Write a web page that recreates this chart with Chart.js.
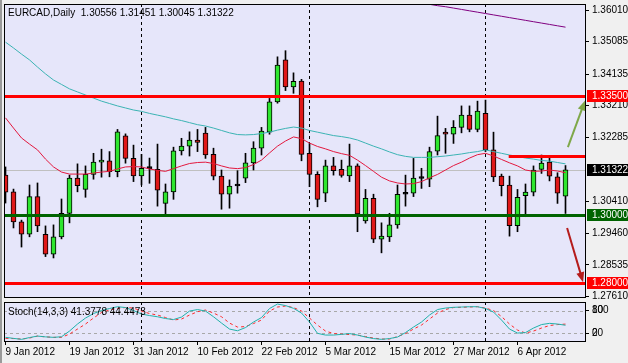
<!DOCTYPE html>
<html>
<head>
<meta charset="utf-8">
<script src="https://cdn.jsdelivr.net/npm/chart.js@4.4.1/dist/chart.umd.min.js"></script>
<style>
  html, body { margin: 0; padding: 0; background: #f0f0f0; }
  #wrap { position: relative; width: 628px; height: 363px; overflow: hidden; }
  #price { position: absolute; left: 0; top: 0; }
  #stoch { position: absolute; left: 0; top: 300px; }
  #edge { position: absolute; left: 0; top: 0; width: 2px; height: 363px; background: #9a9a9a; }
</style>
</head>
<body>
<div id="wrap">
  <canvas id="price" width="628" height="300"></canvas>
  <canvas id="stoch" width="628" height="63"></canvas>
  <div id="edge"></div>
</div>
<script>
// --- data ---
const symbol = 'EURCAD,Daily';

const dates = [
  '9 Jan 2012','10 Jan 2012','11 Jan 2012','12 Jan 2012','13 Jan 2012','16 Jan 2012','17 Jan 2012','18 Jan 2012',
  '19 Jan 2012','20 Jan 2012','23 Jan 2012','24 Jan 2012','25 Jan 2012','26 Jan 2012','27 Jan 2012','30 Jan 2012','31 Jan 2012',
  '1 Feb 2012','2 Feb 2012','3 Feb 2012','6 Feb 2012','7 Feb 2012','8 Feb 2012','9 Feb 2012','10 Feb 2012',
  '13 Feb 2012','14 Feb 2012','15 Feb 2012','16 Feb 2012','17 Feb 2012','20 Feb 2012','21 Feb 2012','22 Feb 2012',
  '23 Feb 2012','24 Feb 2012','27 Feb 2012','28 Feb 2012','29 Feb 2012',
  '1 Mar 2012','2 Mar 2012','5 Mar 2012','6 Mar 2012','7 Mar 2012','8 Mar 2012','9 Mar 2012','12 Mar 2012',
  '13 Mar 2012','14 Mar 2012','15 Mar 2012','16 Mar 2012','19 Mar 2012','20 Mar 2012','21 Mar 2012','22 Mar 2012',
  '23 Mar 2012','26 Mar 2012','27 Mar 2012','28 Mar 2012','29 Mar 2012','30 Mar 2012',
  '2 Apr 2012','3 Apr 2012','4 Apr 2012','5 Apr 2012','6 Apr 2012','9 Apr 2012','10 Apr 2012','11 Apr 2012',
  '12 Apr 2012','13 Apr 2012','16 Apr 2012'
];

const opens = [
  1.3117, 1.3068, 1.2980, 1.2944, 1.3054, 1.2943, 1.2885, 1.2936, 1.3005, 1.3108,
  1.3075, 1.3119, 1.3155, 1.3159, 1.3127, 1.3232, 1.3166, 1.3115, 1.3136, 1.3134,
  1.3034, 1.3068, 1.3188, 1.3202, 1.3220, 1.3240, 1.3178, 1.3114, 1.3061, 1.3085,
  1.3108, 1.3153, 1.3196, 1.3243, 1.3332, 1.3455, 1.3376, 1.3393, 1.3181, 1.3119,
  1.3064, 1.3144, 1.3134, 1.3115, 1.3144, 1.2983, 1.3049, 1.2929, 1.2936, 1.2971,
  1.3061, 1.3064, 1.3107, 1.3105, 1.3187, 1.3243, 1.3237, 1.3257, 1.3293, 1.3251,
  1.3298, 1.3191, 1.3114, 1.3088, 1.2969, 1.3057, 1.3067, 1.3134, 1.3155, 1.3112,
  1.30556
];
const highs = [
  1.3141, 1.3076, 1.2985, 1.3088, 1.3094, 1.2968, 1.2971, 1.3047, 1.3117, 1.3150,
  1.3144, 1.3181, 1.3193, 1.3186, 1.3251, 1.3238, 1.3205, 1.3178, 1.3167, 1.3208,
  1.3091, 1.3199, 1.3225, 1.3244, 1.3251, 1.3257, 1.3196, 1.3132, 1.3103, 1.3130,
  1.3181, 1.3215, 1.3257, 1.3342, 1.3464, 1.3482, 1.3417, 1.3398, 1.3210, 1.3127,
  1.3161, 1.3169, 1.3161, 1.3208, 1.3150, 1.3075, 1.3061, 1.2977, 1.3005, 1.3088,
  1.3117, 1.3166, 1.3137, 1.3199, 1.3290, 1.3254, 1.3277, 1.3320, 1.3320, 1.3334,
  1.3337, 1.3243, 1.3120, 1.3114, 1.3075, 1.3091, 1.3144, 1.3176, 1.3171, 1.3124,
  1.31451
];
const lows = [
  1.3035, 1.2962, 1.2906, 1.2936, 1.2951, 1.2878, 1.2874, 1.2930, 1.2977, 1.3068,
  1.3052, 1.3105, 1.3111, 1.3112, 1.3112, 1.3152, 1.3098, 1.3088, 1.3093, 1.3026,
  1.3000, 1.3046, 1.3176, 1.3173, 1.3186, 1.3166, 1.3103, 1.3017, 1.3020, 1.3064,
  1.3095, 1.3132, 1.3176, 1.3237, 1.3328, 1.3365, 1.3357, 1.3159, 1.3083, 1.3024,
  1.3039, 1.3117, 1.3111, 1.3098, 1.2951, 1.2976, 1.2919, 1.2889, 1.2922, 1.2961,
  1.3026, 1.3054, 1.3078, 1.3083, 1.3176, 1.3181, 1.3210, 1.3241, 1.3244, 1.3244,
  1.3186, 1.3098, 1.3056, 1.2938, 1.2951, 1.2995, 1.3056, 1.3122, 1.3100, 1.3034,
  1.30045
];
const closes = [
  1.3067, 1.2980, 1.2944, 1.3054, 1.2968, 1.2885, 1.2936, 1.3005, 1.3108, 1.3086,
  1.3119, 1.3155, 1.3161, 1.3127, 1.3244, 1.3166, 1.3115, 1.3137, 1.3137, 1.3073,
  1.3068, 1.3188, 1.3202, 1.3220, 1.3213, 1.3176, 1.3114, 1.3061, 1.3085, 1.3086,
  1.3153, 1.3196, 1.3246, 1.3332, 1.3440, 1.3376, 1.3392, 1.3178, 1.3119, 1.3046,
  1.3144, 1.3130, 1.3116, 1.3144, 1.3003, 1.3049, 1.2929, 1.2938, 1.2971, 1.3061,
  1.3062, 1.3108, 1.3108, 1.3186, 1.3233, 1.3237, 1.3257, 1.3293, 1.3251, 1.3305,
  1.3191, 1.3112, 1.3086, 1.2969, 1.3052, 1.3067, 1.3132, 1.3152, 1.3114, 1.3064,
  1.31322
];

// moving averages (red, teal, purple)
const maFast = [
  1.3285, 1.3255, 1.3226, 1.3208, 1.3191, 1.3164, 1.3141, 1.3126, 1.3120, 1.3120,
  1.3120, 1.3123, 1.3126, 1.3128, 1.3135, 1.3141, 1.3142, 1.3141, 1.3135, 1.3131,
  1.3128, 1.3136, 1.3144, 1.3151, 1.3154, 1.3155, 1.3151, 1.3144, 1.3138, 1.3136,
  1.3139, 1.3148, 1.3161, 1.3182, 1.3202, 1.3217, 1.3229, 1.3224, 1.3211, 1.3201,
  1.3194, 1.3186, 1.3180, 1.3175, 1.3161, 1.3145, 1.3128, 1.3111, 1.3100, 1.3094,
  1.3091, 1.3092, 1.3098, 1.3109, 1.3119, 1.3132, 1.3145, 1.3155, 1.3167, 1.3177,
  1.3181, 1.3173, 1.3163, 1.3153, 1.3144, 1.3132, 1.3128, 1.3129, 1.3132, 1.3129,
  1.3124
];
const maSlow = [
  1.3507, 1.3490, 1.3472, 1.3455, 1.3434, 1.3414, 1.3396, 1.3383, 1.3370, 1.3361,
  1.3352, 1.3343, 1.3334, 1.3327, 1.3320, 1.3314, 1.3308, 1.3304, 1.3298, 1.3293,
  1.3288, 1.3282, 1.3277, 1.3271, 1.3265, 1.3261, 1.3255, 1.3248, 1.3241, 1.3236,
  1.3235, 1.3236, 1.3239, 1.3243, 1.3249, 1.3254, 1.3258, 1.3255, 1.3248, 1.3243,
  1.3238, 1.3233, 1.3230, 1.3226, 1.3220, 1.3211, 1.3202, 1.3194, 1.3185, 1.3177,
  1.3172, 1.3169, 1.3169, 1.3169, 1.3171, 1.3173, 1.3176, 1.3179, 1.3183, 1.3186,
  1.3191, 1.3186, 1.3181, 1.3176, 1.3172, 1.3167, 1.3164, 1.3160, 1.3158, 1.3154,
  1.3150
];
const maLong = [
  null, null, null, null, null, null, null, null, null, null,
  null, null, null, null, null, null, null, null, null, null,
  null, null, null, null, null, null, null, null, null, null,
  null, null, null, null, null, null, null, null, null, null,
  null, null, null, null, null, null, null, null, null, null,
  1.3632, 1.3628, 1.3623, 1.3618, 1.3614, 1.3611, 1.3607, 1.3603, 1.3599, 1.3595,
  1.3591, 1.3587, 1.3583, 1.3579, 1.3575, 1.3571, 1.3567, 1.3563, 1.3559, 1.3555,
  1.3551
];

// Stoch(14,3,3)
const stochMain = [
  9.3, 6.6, 4.0, 8.8, 12.7, 10.6, 9.3, 10.9, 26, 44.6,
  60.5, 72.4, 80.4, 85.7, 90.5, 88.3, 80.4, 71.1, 67.1, 63.9,
  59.2, 56.5, 63.1, 79, 83, 79, 63.9, 47.2, 31.3, 26.8,
  35.3, 49.9, 61.8, 85.7, 97.6, 93.6, 86.2, 73.7, 49.9, 19.9,
  15.4, 15.4, 17.2, 19.4, 15.4, 10.1, 6.1, 4.0, 6.1, 10.1,
  22, 36.6, 49.9, 68.4, 83, 87, 88.9, 89.7, 90.5, 90.5,
  85.7, 76.4, 55.2, 31.3, 20.7, 22, 34, 43.2, 46.4, 44.6,
  41.3778
];
const stochSignal = [
  6.6, 6.1, 4.8, 7.4, 12.7, 10.6, 9.3, 9.3, 18, 31.3,
  44.6, 60.5, 75.1, 81.7, 86.2, 88.3, 87, 79, 72.4, 68.4,
  61.8, 55.2, 57.8, 68.4, 77.2, 81.7, 73.7, 63.9, 47.2, 36.6,
  37.9, 45.9, 55.2, 79, 89.7, 92.3, 88.3, 79, 60.5, 41.9,
  26, 19.4, 18, 16.7, 15.4, 11.4, 7.4, 4.8, 4.8, 11.4,
  19.4, 31.3, 41.9, 57.8, 73.7, 83, 88.3, 88.9, 89.7, 90.5,
  87, 80.4, 64.5, 44.6, 28.6, 20.7, 26, 34, 40.6, 43.2,
  44.4473
];

const priceTicks = [1.36010, 1.35085, 1.34135, 1.33210, 1.32285, 1.30410, 1.29460, 1.28535, 1.27610];
const dateTicks = ['9 Jan 2012', '19 Jan 2012', '31 Jan 2012', '10 Feb 2012', '22 Feb 2012',
                   '5 Mar 2012', '15 Mar 2012', '27 Mar 2012', '6 Apr 2012'];
const levels = [1.33500, 1.30000, 1.28000];
const resistance = 1.3174;
const stochLevels = [80, 20];
const stochBounds = ['100', '0'];

// --- drawing setup ---
const FAMILY = '"Liberation Sans", Arial, sans-serif';
const FONT = { family: FAMILY, size: 10 };
const X_MIN = -0.1875, X_MAX = 72.5625;
const last = closes.length - 1;
const levelColors = ['#ff0000', '#006400', '#ff0000'];
const resistanceStart = 62.9;
const arrows = [
  { from: [70.3, 1.3199], to: [72.45, 1.3336], color: '#7fa84a' },
  { from: [70.2, 1.2962], to: [72.2, 1.2803], color: '#b51c1c' }
];

const bodyColors = opens.map((o, i) => {
  if (Math.abs(closes[i] - o) < 0.00015) return '#000000';
  return closes[i] > o ? '#2ee62e' : '#e01818';
});

function monthStarts() {
  const out = [];
  for (let i = 1; i < dates.length; i++) {
    if (dates[i].split(' ')[1] !== dates[i - 1].split(' ')[1]) out.push(i);
  }
  return out;
}

// no extra room for half labels, MT4 keeps the pane edges fixed
function noPad(s) {
  s.paddingTop = 0;
  s.paddingBottom = 0;
  s.paddingLeft = 0;
  s.paddingRight = 0;
}

function drawSeparators(ctx, a, x) {
  ctx.save();
  ctx.strokeStyle = '#000';
  ctx.lineWidth = 1;
  ctx.setLineDash([3, 3]);
  monthStarts().forEach(i => {
    const px = Math.floor(x.getPixelForValue(i)) + 0.5;
    ctx.beginPath();
    ctx.moveTo(px, a.top);
    ctx.lineTo(px, a.bottom);
    ctx.stroke();
  });
  ctx.restore();
}

function axisBox(ctx, a, y, text, color) {
  const py = Math.round(y);
  ctx.fillStyle = color;
  ctx.fillRect(a.right + 1, py - 6, 41, 12);
  ctx.fillStyle = '#fff';
  ctx.font = '10px ' + FAMILY;
  ctx.textBaseline = 'middle';
  ctx.textAlign = 'left';
  ctx.fillText(text, a.right + 6, py);
}

const frame = {
  id: 'frame',
  beforeDraw(chart) {
    const { ctx, chartArea: a, width, height } = chart;
    ctx.save();
    ctx.fillStyle = '#f0f0f0';
    ctx.fillRect(0, 0, width, height);
    ctx.fillStyle = '#e6e6fa';
    ctx.fillRect(a.left, a.top, a.right - a.left, a.bottom - a.top);
    ctx.restore();
  },
  afterDraw(chart) {
    const { ctx, chartArea: a } = chart;
    ctx.save();
    ctx.strokeStyle = '#000';
    ctx.lineWidth = 1;
    ctx.strokeRect(a.left + 0.5, a.top + 0.5, a.right - a.left - 1, a.bottom - a.top - 1);
    ctx.restore();
  }
};

const priceOverlay = {
  id: 'priceOverlay',
  beforeDatasetsDraw(chart) {
    const { ctx, chartArea: a, scales: { x, y } } = chart;
    ctx.save();
    const yb = Math.round(y.getPixelForValue(closes[last])) + 0.5;
    ctx.strokeStyle = '#c0c0c0';
    ctx.lineWidth = 1;
    ctx.beginPath();
    ctx.moveTo(a.left, yb);
    ctx.lineTo(a.right, yb);
    ctx.stroke();
    ctx.restore();
    drawSeparators(ctx, a, x);
  },
  afterDatasetsDraw(chart) {
    const { ctx, chartArea: a, scales: { x, y } } = chart;
    ctx.save();
    levels.forEach((v, i) => {
      ctx.fillStyle = levelColors[i];
      ctx.fillRect(a.left, Math.round(y.getPixelForValue(v)) - 1, a.right - a.left, 3);
    });
    // short resistance line
    const xr = x.getPixelForValue(resistanceStart);
    ctx.fillStyle = '#ff0000';
    ctx.fillRect(xr, Math.round(y.getPixelForValue(resistance)) - 1, a.right - xr, 3);
    // arrows
    arrows.forEach(ar => {
      const x1 = x.getPixelForValue(ar.from[0]), y1 = y.getPixelForValue(ar.from[1]);
      const x2 = x.getPixelForValue(ar.to[0]), y2 = y.getPixelForValue(ar.to[1]);
      const ang = Math.atan2(y2 - y1, x2 - x1);
      ctx.strokeStyle = ar.color;
      ctx.fillStyle = ar.color;
      ctx.lineWidth = 2;
      ctx.beginPath();
      ctx.moveTo(x1, y1);
      ctx.lineTo(x2 - 6 * Math.cos(ang), y2 - 6 * Math.sin(ang));
      ctx.stroke();
      ctx.beginPath();
      ctx.moveTo(x2, y2);
      ctx.lineTo(x2 - 10 * Math.cos(ang) + 4 * Math.sin(ang), y2 - 10 * Math.sin(ang) - 4 * Math.cos(ang));
      ctx.lineTo(x2 - 10 * Math.cos(ang) - 4 * Math.sin(ang), y2 - 10 * Math.sin(ang) + 4 * Math.cos(ang));
      ctx.closePath();
      ctx.fill();
    });
    ctx.restore();
  },
  afterDraw(chart) {
    const { ctx, chartArea: a, scales: { y } } = chart;
    ctx.save();
    ctx.fillStyle = '#000';
    ctx.font = '10px ' + FAMILY;
    ctx.textBaseline = 'middle';
    ctx.textAlign = 'left';
    const head = symbol + '  ' + [opens[last], highs[last], lows[last], closes[last]].map(v => v.toFixed(5)).join(' ');
    ctx.fillText(head, a.left + 4, a.top + 9);
    levels.forEach((v, i) => axisBox(ctx, a, y.getPixelForValue(v), v.toFixed(5), levelColors[i]));
    axisBox(ctx, a, y.getPixelForValue(closes[last]), closes[last].toFixed(5), '#000000');
    ctx.restore();
  }
};

const stochOverlay = {
  id: 'stochOverlay',
  beforeDatasetsDraw(chart) {
    const { ctx, chartArea: a, scales: { x, y } } = chart;
    ctx.save();
    ctx.strokeStyle = '#a8a8a8';
    ctx.lineWidth = 1;
    ctx.setLineDash([3, 3]);
    stochLevels.forEach(v => {
      const py = Math.round(y.getPixelForValue(v)) + 0.5;
      ctx.beginPath();
      ctx.moveTo(a.left, py);
      ctx.lineTo(a.right, py);
      ctx.stroke();
    });
    ctx.restore();
    drawSeparators(ctx, a, x);
  },
  afterDraw(chart) {
    const { ctx, chartArea: a, scales: { y } } = chart;
    ctx.save();
    ctx.fillStyle = '#000';
    ctx.font = '10px ' + FAMILY;
    ctx.textBaseline = 'middle';
    ctx.textAlign = 'left';
    ctx.fillText('Stoch(14,3,3) ' + stochMain[last].toFixed(4) + ' ' + stochSignal[last].toFixed(4), a.left + 4, a.top + 10);
    // MT4 squeezes the 100 / 0 labels onto the level labels
    stochBounds.forEach((t, i) => ctx.fillText(t, a.right + 6, y.getPixelForValue(stochLevels[i])));
    ctx.restore();
  }
};

new Chart(document.getElementById('price'), {
  type: 'bar',
  data: {
    datasets: [
      { type: 'line', data: maFast.map((v, i) => ({ x: i, y: v })), borderColor: '#e3193f', borderWidth: 1, pointRadius: 0, order: 0 },
      { type: 'line', data: maSlow.map((v, i) => ({ x: i, y: v })), borderColor: '#3cb4b4', borderWidth: 1, pointRadius: 0, order: 1 },
      { type: 'line', data: maLong.map((v, i) => ({ x: i, y: v })), borderColor: '#800080', borderWidth: 1, pointRadius: 0, order: 2 },
      {
        data: opens.map((o, i) => ({ x: i, y: [o, closes[i]] })),
        backgroundColor: bodyColors, borderColor: '#000', borderWidth: 1, borderSkipped: false,
        barThickness: 5, minBarLength: 2, grouped: false, order: 4
      },
      {
        data: lows.map((l, i) => ({ x: i, y: [l, highs[i]] })),
        backgroundColor: '#000', borderWidth: 0, barThickness: 1, grouped: false, order: 5
      }
    ]
  },
  options: {
    responsive: false,
    animation: false,
    events: [],
    layout: { padding: { left: 4, top: 4, right: 0, bottom: 2 } },
    plugins: { legend: { display: false }, tooltip: { enabled: false } },
    scales: {
      x: { type: 'linear', min: X_MIN, max: X_MAX, offset: false, display: false },
      y: {
        position: 'right',
        min: 1.275653, max: 1.361895,
        afterBuildTicks: s => { s.ticks = priceTicks.map(v => ({ value: v })); },
        afterFit: s => { s.width = 42; noPad(s); },
        grid: { drawOnChartArea: false, tickLength: 3, color: '#000' },
        border: { display: false },
        ticks: { color: '#000', padding: 3, font: FONT, autoSkip: false, callback: v => v.toFixed(5) }
      }
    }
  },
  plugins: [frame, priceOverlay]
});

new Chart(document.getElementById('stoch'), {
  type: 'line',
  data: {
    datasets: [
      { data: stochMain.map((v, i) => ({ x: i, y: v })), borderColor: '#20b2aa', borderWidth: 1, pointRadius: 0 },
      { data: stochSignal.map((v, i) => ({ x: i, y: v })), borderColor: '#ff2a2a', borderWidth: 1, borderDash: [3, 3], pointRadius: 0 }
    ]
  },
  options: {
    responsive: false,
    animation: false,
    events: [],
    layout: { padding: { left: 4, top: 2, right: 0, bottom: 0 } },
    plugins: { legend: { display: false }, tooltip: { enabled: false } },
    scales: {
      x: {
        type: 'linear', min: X_MIN, max: X_MAX, offset: false,
        afterBuildTicks: s => { s.ticks = dateTicks.map(d => ({ value: dates.indexOf(d) })); },
        afterFit: s => { s.height = 21; noPad(s); },
        grid: { drawOnChartArea: false, tickLength: 3, color: '#000' },
        border: { display: false },
        ticks: { autoSkip: false, maxRotation: 0, align: 'start', padding: 1, color: '#000', font: FONT, callback: v => dates[v] }
      },
      y: {
        position: 'right',
        min: -3, max: 103,
        afterBuildTicks: s => { s.ticks = stochLevels.map(v => ({ value: v })); },
        afterFit: s => { s.width = 42; noPad(s); },
        grid: { drawOnChartArea: false, tickLength: 3, color: '#000' },
        border: { display: false },
        ticks: { color: '#000', padding: 3, font: FONT }
      }
    }
  },
  plugins: [frame, stochOverlay]
});
</script>
</body>
</html>
